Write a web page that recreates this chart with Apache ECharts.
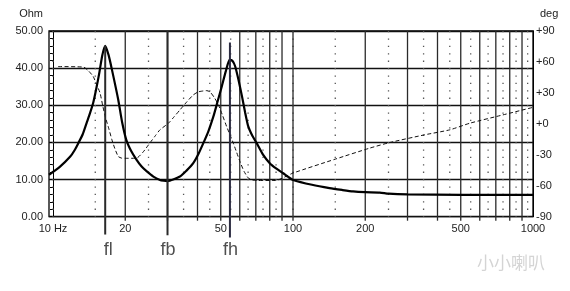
<!DOCTYPE html>
<html>
<head>
<meta charset="utf-8">
<script src="https://cdn.jsdelivr.net/npm/echarts@6/dist/echarts.min.js"></script>
<style>html,body{margin:0;padding:0;background:#fff}#c{width:570px;height:291px}</style>
</head>
<body>
<div id="c"></div>
<script>
// ---- data ----
const impHz  = [9.62, 10.7, 11.8, 12.3, 12.75, 13.3, 13.8, 14.25, 14.7, 15.15, 15.6, 16.05, 16.5, 17.05, 17.6, 18.7, 19.4, 20.2, 21.2, 22.3, 23.4, 24.6, 26.2, 27.9, 28.9, 30, 33.8, 36, 38.4, 40.3, 42.3, 44.4, 46.6, 48.5, 50.5, 52.5, 54.4, 55.9, 57.4, 59.3, 61.3, 63.2, 65.1, 67.8, 70.6, 75, 80, 85, 91, 95.5, 100, 120, 142, 160, 178, 200, 230, 250, 300, 500, 1000];
const impOhm = [11.3, 13.5, 16.2, 17.9, 19.8, 22.2, 25.2, 27.8, 30.6, 34.5, 38.8, 43.5, 46.0, 43.5, 39.6, 31.5, 25.5, 20.7, 17.6, 15.3, 13.5, 12.2, 10.8, 9.9, 9.7, 9.6, 10.8, 12.4, 14.4, 16.8, 19.8, 23.0, 27.0, 31.0, 35.1, 39.2, 42.2, 42.0, 40.5, 36.8, 32.4, 28.0, 24.3, 21.7, 19.8, 16.7, 14.4, 13.0, 11.7, 10.7, 9.9, 8.6, 7.7, 7.2, 6.8, 6.6, 6.5, 6.2, 6.0, 5.9, 5.9];
const phaseHz  = [10.5, 13.4, 14.1, 14.7, 15.2, 15.7, 16.1, 16.5, 17.05, 17.6, 18.1, 18.7, 19.3, 20.5, 22.3, 23.8, 25.3, 26.6, 27.9, 30.3, 32, 33.8, 36, 38.4, 40.3, 42.3, 43.7, 45.1, 47, 48.9, 50.9, 52.9, 54.6, 56.4, 58.2, 60.1, 62.5, 65.1, 67.5, 70.6, 84.4, 100, 150, 209, 253, 354, 450, 547, 750, 1000];
const phaseDeg = [55.5, 55, 51, 46, 38, 30, 18, 7, -4, -15.5, -24, -31.6, -33.2, -33.4, -33.2, -27, -18.7, -12, -5.8, 0.7, 7, 13.5, 21, 28, 31, 31.9, 32.2, 31, 25.5, 18.4, 8, -2.6, -10.5, -18.7, -27.5, -36.5, -46, -52.5, -54.3, -54.9, -54.9, -47.7, -34.2, -23.5, -18.1, -10.6, -5.8, 0.7, 8.7, 16];
const markerHz    = [16.5, 30, 54.6];
const markerNames = ['fl', 'fb', 'fh'];
const majorGridHz = [20, 30, 40, 50, 60, 70, 80, 90, 100, 200, 300, 400, 500, 600, 700, 800, 900];
const minorGridHz = [10, 15, 25, 35, 45, 55, 65, 75, 85, 100, 150, 250, 350, 450, 550, 650, 750, 850, 950];
const xTickHz     = [10, 20, 50, 100, 200, 500, 1000];
const xTickLabels = ['10 Hz', '20', '50', '100', '200', '500', '1000'];

const FONT = 'Liberation Sans, Arial, sans-serif';
const chart = echarts.init(document.getElementById('c'), null, {renderer: 'canvas'});

const markerTop = [46.0, 50, 46.9];
const markerBottom = [-4.8, -5.0, -5.6];
const markerLabelY = -9.1;

function vline(stroke, width, dash, tick) {
  return function (params, api) {
    const f = api.value(0);
    const a = api.coord([f, 50]);
    const b = api.coord([f, 0]);
    const style = {stroke: stroke, lineWidth: width};
    if (dash) style.lineDash = dash;
    return {type: 'line', silent: true, shape: {x1: a[0], y1: a[1], x2: b[0], y2: b[1] + tick}, style: style};
  };
}

const series = [
  {type: 'custom', name: 'minorGrid', xAxisIndex: 0, yAxisIndex: 0, z: 1, silent: true,
   data: minorGridHz.map(f => [f, 0]), renderItem: vline('#555', 1.3, [1.3, 6.1], 0)},
  {type: 'custom', name: 'majorGrid', xAxisIndex: 0, yAxisIndex: 0, z: 1, silent: true,
   data: majorGridHz.map(f => [f, 0]), renderItem: vline('#2a2a2a', 1.3, null, 4)},
  {type: 'custom', name: 'xLabels', xAxisIndex: 0, yAxisIndex: 0, z: 2, silent: true,
   data: xTickHz.map((f, i) => [f, 0, i]),
   renderItem: function (params, api) {
     const p = api.coord([api.value(0), 0]);
     return {type: 'text', silent: true, style: {text: xTickLabels[api.value(2)], x: p[0], y: p[1] + 12,
       fill: '#222', fontSize: 11, fontFamily: FONT, align: 'center', verticalAlign: 'middle'}};
   }},
  {type: 'line', name: 'Impedance', xAxisIndex: 0, yAxisIndex: 0, z: 4, symbol: 'none', smooth: 0.2,
   data: impHz.map((f, i) => [f, impOhm[i]]),
   lineStyle: {color: '#000', width: 2.2}},
  {type: 'line', name: 'Phase', xAxisIndex: 0, yAxisIndex: 1, z: 3, symbol: 'none', smooth: 0.2,
   data: phaseHz.map((f, i) => [f, phaseDeg[i]]),
   lineStyle: {color: '#111', width: 1, type: [4, 2.5]}}
];

markerHz.forEach((f, i) => {
  series.push({type: 'line', name: markerNames[i], xAxisIndex: 0, yAxisIndex: 0, z: 5, symbol: 'none', clip: false,
    data: [[f, markerTop[i]], [f, markerBottom[i]]],
    lineStyle: {color: i === 2 ? '#2b2b40' : '#2a2a2a', width: 2}});
});
series.push({type: 'scatter', name: 'markerLabels', xAxisIndex: 0, yAxisIndex: 0, z: 6, clip: false, silent: true,
  symbolSize: 1, itemStyle: {color: 'rgba(0,0,0,0)'},
  data: markerHz.map((f, i) => ({value: [f, markerLabelY], name: markerNames[i],
    label: {offset: [i === 0 ? 3 : 0.5, 0]}})),
  label: {show: true, position: 'inside', formatter: p => p.name, color: '#222', fontSize: 18, fontFamily: FONT}});

chart.setOption({
  animation: false,
  backgroundColor: '#fff',
  grid: {left: 49, right: 37, top: 31, bottom: 74.3, show: true, borderColor: '#000', borderWidth: 1.3, backgroundColor: '#fff'},
  xAxis: [{type: 'log', logBase: 10, min: 9.623, max: 1000,
    axisLine: {show: false}, axisTick: {show: false}, axisLabel: {show: false}, splitLine: {show: false}}],
  yAxis: [
    {type: 'value', min: 0, max: 50, interval: 10, position: 'left', offset: -4,
     name: 'Ohm', nameLocation: 'end', nameGap: 12,
     nameTextStyle: {color: '#222', fontSize: 11, fontFamily: FONT, align: 'right', padding: [0, 10, 0, 0]},
     axisLine: {show: true, lineStyle: {color: '#000', width: 1}},
     axisTick: {show: true, length: 3, lineStyle: {color: '#000'}},
     minorTick: {show: true, splitNumber: 5, length: 3, lineStyle: {color: '#000'}},
     axisLabel: {formatter: v => v.toFixed(2), margin: 10, color: '#222', fontSize: 11, fontFamily: FONT},
     splitLine: {show: true, lineStyle: {color: '#111', width: 1.3}}},
    {type: 'value', min: -90, max: 90, interval: 30, position: 'right',
     name: 'deg', nameLocation: 'end', nameGap: 12,
     nameTextStyle: {color: '#222', fontSize: 11, fontFamily: FONT, align: 'left', padding: [0, 0, 0, 7]},
     axisLine: {show: true, lineStyle: {color: '#000', width: 1}},
     axisTick: {show: false},
     axisLabel: {formatter: v => (v >= 0 ? '+' + v : '' + v), margin: 3, color: '#222', fontSize: 11, fontFamily: FONT},
     splitLine: {show: false}}
  ],
  graphic: [{type: 'text', left: 477, top: 254, silent: true,
    style: {text: '小小喇叭', fill: '#d4d4d4', fontSize: 17, fontFamily: 'Noto Sans CJK SC'}}],
  series: series
});
</script>
</body>
</html>
